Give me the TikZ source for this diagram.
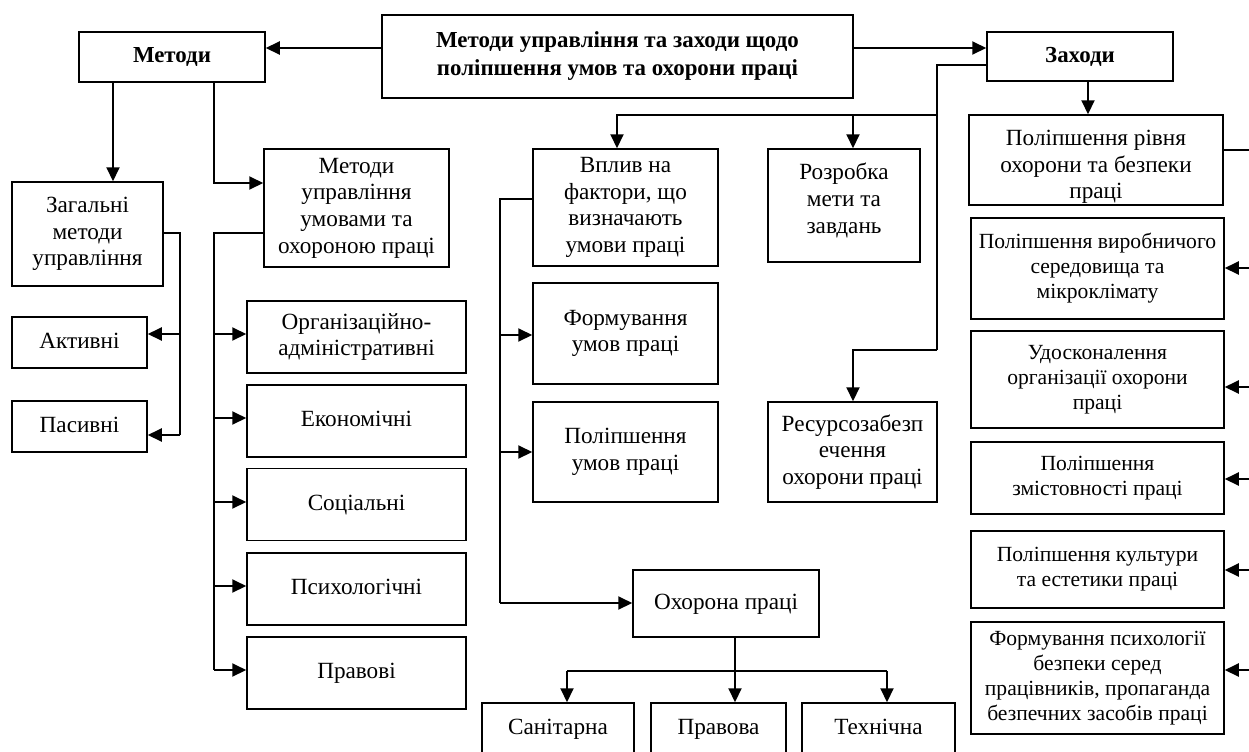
\documentclass[tikz,border=0pt]{standalone}
\usepackage{fontspec}
\setmainfont{Liberation Serif}
\usetikzlibrary{arrows.meta}

% move the ink of a line without changing its size
\newcommand{\nudge}[2]{\raisebox{#1}[\height][\depth]{#2}}

\tikzset{
	box/.style={draw,line width=0.75pt,align=center,inner sep=0pt,
		font=\fontsize{11.6}{13.35}\selectfont},
	boxs/.style={box,font=\fontsize{10.8}{12.5}\selectfont},
	head/.style={box,font=\fontsize{11.45}{14}\selectfont\bfseries},
	one/.style={text height=8pt,text depth=2.5pt},
	link/.style={line width=1pt},
	arr/.style={link,-{Triangle[length=7pt,width=6.5pt]}}
}

\begin{document}
\begin{tikzpicture}[x=0.5pt,y=-0.5pt]
			\useasboundingbox (0,0) rectangle (1249,751);
			\fill[white] (0,0) rectangle (1249,751);
			\clip (0,0) rectangle (1249,751);
			% top row
			\node[head,minimum width=235.5pt,minimum height=41.5pt] (main) at (617.5,56.5) {Методи управління та заходи щодо\\поліпшення умов та охорони праці};
			\node[head,one,minimum width=93pt,minimum height=25pt] (metody) at (172,57) {Методи};
			\node[head,one,minimum width=93pt,minimum height=24.5pt] (zakhody) at (1080,56.5) {Заходи};
			% left column
			\node[box,minimum width=75.5pt,minimum height=52pt] (zagalni) at (87.5,234) {Загальні\\методи\\управління};
			\node[box,one,minimum width=67.5pt,minimum height=25.5pt] (aktyvni) at (79.5,342.5) {Активні};
			\node[box,one,minimum width=67.5pt,minimum height=25.5pt] (pasyvni) at (79.5,426.5) {Пасивні};
			\node[box,minimum width=92.5pt,minimum height=59pt] (muu) at (356.5,208) {Методи\\управління\\умовами та\\охороною праці};
			\node[box,minimum width=109.5pt,minimum height=36pt] (org) at (356.5,337) {Організаційно-\\адміністративні};
			\node[box,one,minimum width=109.5pt,minimum height=36pt] (econ) at (356.5,421) {Економічні};
			\node[box,one,minimum width=109.5pt,minimum height=36pt] (soc) at (356.5,504.5) {Соціальні};
			\node[box,one,minimum width=109.5pt,minimum height=36pt] (psych) at (356.5,589) {Психологічні};
			\node[box,one,minimum width=109.5pt,minimum height=36pt] (prav) at (356.5,673) {Правові};
			% middle
			\node[box,minimum width=92.5pt,minimum height=58.5pt] (vplyv) at (625.5,207.5) {Вплив на\\фактори, що\\визначають\\умови праці};
			\node[box,minimum width=92.5pt,minimum height=50.5pt] (formuv) at (625.5,333.5) {Формування\\умов праці};
			\node[box,minimum width=92.5pt,minimum height=50pt] (polipsh) at (625.5,452) {Поліпшення\\умов праці};
			\node[box,minimum width=76pt,minimum height=56.5pt] (rozrobka) at (844,205.5) {\nudge{2.5pt}{Розробка}\\\nudge{2.5pt}{мети та}\\\nudge{2.5pt}{завдань}};
			\node[box,minimum width=84.5pt,minimum height=50pt] (resurs) at (852.5,452) {Ресурсозабезп\\ечення\\охорони праці};
			\node[box,one,minimum width=93pt,minimum height=33.5pt] (okhorona) at (726,603.5) {Охорона праці};
			\node[box,one,minimum width=76pt,minimum height=26pt] (sanit) at (558,729) {Санітарна};
			\node[box,one,minimum width=67.5pt,minimum height=26pt] (pravova) at (718.5,729) {Правова};
			\node[box,one,minimum width=76.5pt,minimum height=26pt] (tekhn) at (878.5,729) {Технічна};
			% right column
			\node[box,minimum width=127pt,minimum height=45pt] (pro) at (1096,160) {\nudge{-3.5pt}{Поліпшення рівня}\\\nudge{-3.5pt}{охорони та безпеки}\\\nudge{-3.5pt}{праці}};
			\node[boxs,minimum width=126.5pt,minimum height=50.5pt] (vyrob) at (1097.5,268.5) {Поліпшення виробничого\\середовища та\\мікроклімату};
			\node[boxs,minimum width=126.5pt,minimum height=48.5pt] (udoskon) at (1097.5,379.5) {Удосконалення\\організації охорони\\праці};
			\node[boxs,minimum width=126.5pt,minimum height=36pt] (zmist) at (1097.5,478) {Поліпшення\\змістовності праці};
			\node[boxs,minimum width=126.5pt,minimum height=38.5pt] (kult) at (1097.5,569.5) {Поліпшення культури\\та естетики праці};
			\node[boxs,minimum width=126.5pt,minimum height=56pt] (psykhol) at (1097.5,678) {Формування психології\\безпеки серед\\працівників, пропаганда\\безпечних засобів праці};
			% from the title
			\coordinate (m0) at (382,48);
			\draw[arr] (m0) -- (m0 -| metody.east);
			\draw[arr] (m0 -| main.east) -- (m0 -| zakhody.west);
			% methods
			\coordinate (m1) at (113,183);
			\coordinate (m2) at (214,183);
			\draw[arr] (m1 |- metody.south) -- (m1 |- zagalni.north);
			\draw[arr] (m2 |- metody.south) -- (m2) -- (m2 -| muu.west);
			\coordinate (g0) at (180,233);
			\coordinate (g1) at (180,334);
			\coordinate (g2) at (180,435);
			\draw[link] (g0 -| zagalni.east) -- (g0) -- (g2);
			\draw[arr] (g1) -- (g1 -| aktyvni.east);
			\draw[arr] (g2) -- (g2 -| pasyvni.east);
			\coordinate (u0) at (214,233);
			\coordinate (u5) at (214,670);
			\draw[link] (u0 -| muu.west) -- (u0) -- (u5);
			\foreach \nm/\yy in {org/334,econ/418,soc/502,psych/586,prav/670}{
				\coordinate (u) at (214,\yy);
				\draw[arr] (u) -- (u -| \nm.west);
			}
			% measures
			\coordinate (z0) at (937,65);
			\coordinate (z1) at (937,115);
			\coordinate (z2) at (937,350);
			\coordinate (z3) at (853,350);
			\coordinate (z4) at (617,115);
			\coordinate (z5) at (853,115);
			\draw[link] (z0 -| zakhody.west) -- (z0) -- (z2);
			\draw[arr] (z2) -- (z3) -- (z3 |- resurs.north);
			\draw[arr] (z1) -- (z4) -- (z4 |- vplyv.north);
			\draw[arr] (z5) -- (z5 |- rozrobka.north);
			\coordinate (z6) at (1088,81);
			\draw[arr] (z6 |- zakhody.south) -- (z6 |- pro.north);
			\coordinate (r0) at (1252,150);
			\coordinate (r5) at (1252,670);
			\draw[link] (r0 -| pro.east) -- (r0) -- (r5);
			\foreach \nm/\yy in {vyrob/268,udoskon/387,zmist/479,kult/570,psykhol/670}{
				\coordinate (r) at (1252,\yy);
				\draw[arr] (r) -- (r -| \nm.east);
			}
			% conditions
			\coordinate (v0) at (500,199);
			\coordinate (v3) at (500,603);
			\draw[link] (v0 -| vplyv.west) -- (v0) -- (v3);
			\draw[arr] (v3) -- (v3 -| okhorona.west);
			\foreach \nm/\yy in {formuv/335,polipsh/452}{
				\coordinate (v) at (500,\yy);
				\draw[arr] (v) -- (v -| \nm.west);
			}
			\coordinate (o0) at (735,671);
			\coordinate (o1) at (567,671);
			\coordinate (o2) at (887,671);
			\draw[link] (o0 |- okhorona.south) -- (o0);
			\draw[link] (o1) -- (o2);
			\foreach \nm/\xx in {sanit/567,pravova/735,tekhn/887}{
				\coordinate (o) at (\xx,671);
				\draw[arr] (o) -- (o |- \nm.north);
			}
\end{tikzpicture}
\end{document}
